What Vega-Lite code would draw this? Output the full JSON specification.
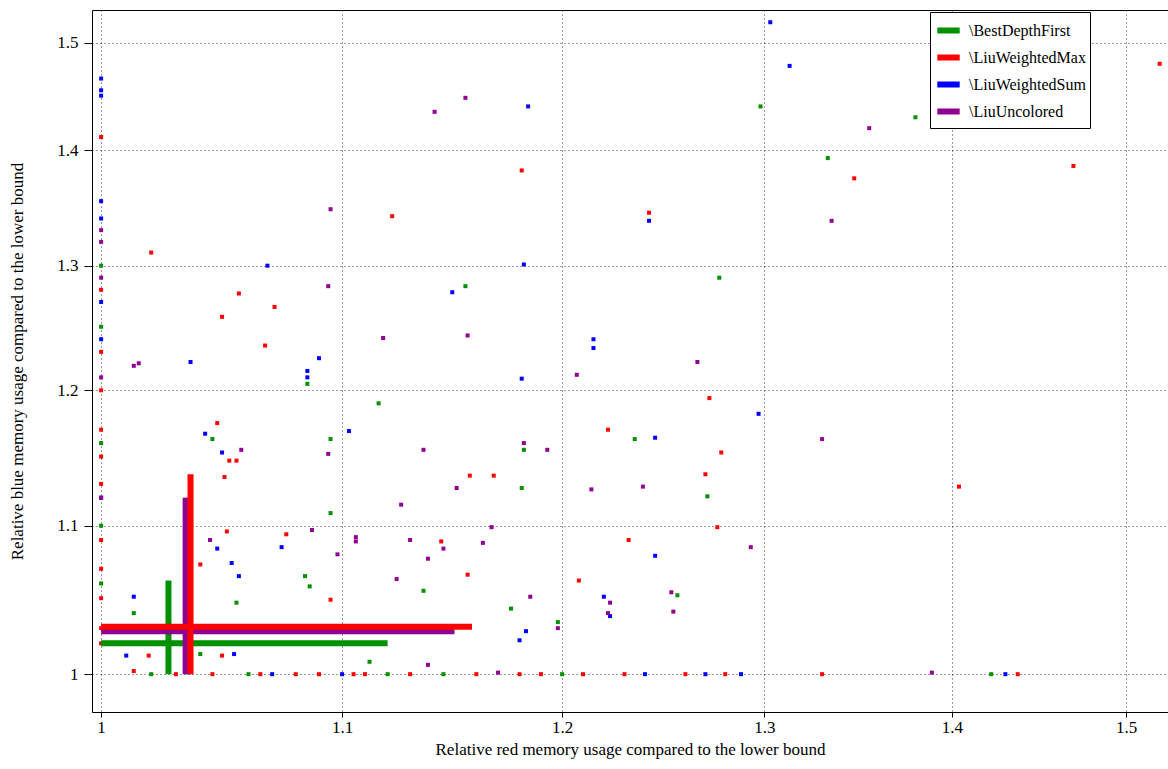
{
  "$schema": "https://vega.github.io/schema/vega-lite/v6.json",
  "width": 1076,
  "height": 702,
  "autosize": "none",
  "padding": {"left": 92, "top": 10, "right": 0, "bottom": 57},
  "config": {
    "font": "Liberation Serif",
    "view": {"stroke": "black", "strokeWidth": 1},
    "axis": {"labelFont": "Liberation Serif", "titleFont": "Liberation Serif", "labelFontSize": 17, "titleFontSize": 17, "titleFontWeight": "normal", "labelColor": "black", "titleColor": "black", "domain": false, "tickColor": "black", "grid": true, "gridColor": "black", "gridDash": [1, 3], "gridOpacity": 0.8}
  },
  "datasets": {
    "pts": [
      {"a": "\\BestDepthFirst", "x": 1.298, "y": 1.44}, {"a": "\\BestDepthFirst", "x": 1.38, "y": 1.43}, {"a": "\\BestDepthFirst", "x": 1.333, "y": 1.393},
      {"a": "\\BestDepthFirst", "x": 1.277, "y": 1.29}, {"a": "\\BestDepthFirst", "x": 1.155, "y": 1.283}, {"a": "\\BestDepthFirst", "x": 1.085, "y": 1.205},
      {"a": "\\BestDepthFirst", "x": 1.116, "y": 1.19}, {"a": "\\BestDepthFirst", "x": 1.045, "y": 1.163}, {"a": "\\BestDepthFirst", "x": 1.095, "y": 1.163},
      {"a": "\\BestDepthFirst", "x": 1.235, "y": 1.163}, {"a": "\\BestDepthFirst", "x": 1.182, "y": 1.155}, {"a": "\\BestDepthFirst", "x": 1.271, "y": 1.121},
      {"a": "\\BestDepthFirst", "x": 1.181, "y": 1.127}, {"a": "\\BestDepthFirst", "x": 1.095, "y": 1.109}, {"a": "\\BestDepthFirst", "x": 1.084, "y": 1.065},
      {"a": "\\BestDepthFirst", "x": 1.086, "y": 1.058}, {"a": "\\BestDepthFirst", "x": 1.136, "y": 1.055}, {"a": "\\BestDepthFirst", "x": 1.256, "y": 1.052},
      {"a": "\\BestDepthFirst", "x": 1.055, "y": 1.047}, {"a": "\\BestDepthFirst", "x": 1.176, "y": 1.043}, {"a": "\\BestDepthFirst", "x": 1.013, "y": 1.04},
      {"a": "\\BestDepthFirst", "x": 1.198, "y": 1.034}, {"a": "\\BestDepthFirst", "x": 1.112, "y": 1.008}, {"a": "\\BestDepthFirst", "x": 1.422, "y": 1.0},
      {"a": "\\BestDepthFirst", "x": 1.04, "y": 1.013}, {"a": "\\BestDepthFirst", "x": 1, "y": 1.3}, {"a": "\\BestDepthFirst", "x": 1, "y": 1.25},
      {"a": "\\BestDepthFirst", "x": 1, "y": 1.16}, {"a": "\\BestDepthFirst", "x": 1, "y": 1.1}, {"a": "\\BestDepthFirst", "x": 1, "y": 1.06},
      {"a": "\\BestDepthFirst", "x": 1.02, "y": 1.0}, {"a": "\\BestDepthFirst", "x": 1.12, "y": 1.0}, {"a": "\\BestDepthFirst", "x": 1.145, "y": 1.0},
      {"a": "\\BestDepthFirst", "x": 1.2, "y": 1.0}, {"a": "\\BestDepthFirst", "x": 1.06, "y": 1.0},
      {"a": "\\LiuWeightedSum", "x": 1.303, "y": 1.52}, {"a": "\\LiuWeightedSum", "x": 1.313, "y": 1.478}, {"a": "\\LiuWeightedSum", "x": 1.184, "y": 1.44},
      {"a": "\\LiuWeightedSum", "x": 1.242, "y": 1.338}, {"a": "\\LiuWeightedSum", "x": 1.068, "y": 1.3}, {"a": "\\LiuWeightedSum", "x": 1.182, "y": 1.301},
      {"a": "\\LiuWeightedSum", "x": 1.149, "y": 1.278}, {"a": "\\LiuWeightedSum", "x": 1.09, "y": 1.225}, {"a": "\\LiuWeightedSum", "x": 1.036, "y": 1.222},
      {"a": "\\LiuWeightedSum", "x": 1.215, "y": 1.24}, {"a": "\\LiuWeightedSum", "x": 1.215, "y": 1.233}, {"a": "\\LiuWeightedSum", "x": 1.085, "y": 1.215},
      {"a": "\\LiuWeightedSum", "x": 1.085, "y": 1.21}, {"a": "\\LiuWeightedSum", "x": 1.181, "y": 1.209}, {"a": "\\LiuWeightedSum", "x": 1.297, "y": 1.182},
      {"a": "\\LiuWeightedSum", "x": 1.103, "y": 1.169}, {"a": "\\LiuWeightedSum", "x": 1.042, "y": 1.167}, {"a": "\\LiuWeightedSum", "x": 1.245, "y": 1.164},
      {"a": "\\LiuWeightedSum", "x": 1.049, "y": 1.153}, {"a": "\\LiuWeightedSum", "x": 1.074, "y": 1.085}, {"a": "\\LiuWeightedSum", "x": 1.047, "y": 1.084},
      {"a": "\\LiuWeightedSum", "x": 1.053, "y": 1.074}, {"a": "\\LiuWeightedSum", "x": 1.245, "y": 1.079}, {"a": "\\LiuWeightedSum", "x": 1.056, "y": 1.065},
      {"a": "\\LiuWeightedSum", "x": 1.013, "y": 1.051}, {"a": "\\LiuWeightedSum", "x": 1.22, "y": 1.051}, {"a": "\\LiuWeightedSum", "x": 1.223, "y": 1.038},
      {"a": "\\LiuWeightedSum", "x": 1.183, "y": 1.028}, {"a": "\\LiuWeightedSum", "x": 1.18, "y": 1.022}, {"a": "\\LiuWeightedSum", "x": 1.01, "y": 1.012},
      {"a": "\\LiuWeightedSum", "x": 1.054, "y": 1.013}, {"a": "\\LiuWeightedSum", "x": 1.288, "y": 1.0}, {"a": "\\LiuWeightedSum", "x": 1.43, "y": 1.0},
      {"a": "\\LiuWeightedSum", "x": 1, "y": 1.466}, {"a": "\\LiuWeightedSum", "x": 1, "y": 1.455}, {"a": "\\LiuWeightedSum", "x": 1, "y": 1.45},
      {"a": "\\LiuWeightedSum", "x": 1, "y": 1.355}, {"a": "\\LiuWeightedSum", "x": 1, "y": 1.34}, {"a": "\\LiuWeightedSum", "x": 1, "y": 1.27},
      {"a": "\\LiuWeightedSum", "x": 1, "y": 1.24}, {"a": "\\LiuWeightedSum", "x": 1, "y": 1.12}, {"a": "\\LiuWeightedSum", "x": 1.1, "y": 1.0},
      {"a": "\\LiuWeightedSum", "x": 1.24, "y": 1.0}, {"a": "\\LiuWeightedSum", "x": 1.27, "y": 1.0}, {"a": "\\LiuWeightedSum", "x": 1.07, "y": 1.0},
      {"a": "\\LiuUncolored", "x": 1.155, "y": 1.448}, {"a": "\\LiuUncolored", "x": 1.141, "y": 1.435}, {"a": "\\LiuUncolored", "x": 1.355, "y": 1.42},
      {"a": "\\LiuUncolored", "x": 1.095, "y": 1.348}, {"a": "\\LiuUncolored", "x": 1.335, "y": 1.338}, {"a": "\\LiuUncolored", "x": 1.094, "y": 1.283},
      {"a": "\\LiuUncolored", "x": 1.118, "y": 1.241}, {"a": "\\LiuUncolored", "x": 1.156, "y": 1.243}, {"a": "\\LiuUncolored", "x": 1.015, "y": 1.221},
      {"a": "\\LiuUncolored", "x": 1.013, "y": 1.219}, {"a": "\\LiuUncolored", "x": 1.266, "y": 1.222}, {"a": "\\LiuUncolored", "x": 1.207, "y": 1.212},
      {"a": "\\LiuUncolored", "x": 1.057, "y": 1.155}, {"a": "\\LiuUncolored", "x": 1.136, "y": 1.155}, {"a": "\\LiuUncolored", "x": 1.094, "y": 1.152},
      {"a": "\\LiuUncolored", "x": 1.182, "y": 1.16}, {"a": "\\LiuUncolored", "x": 1.193, "y": 1.155}, {"a": "\\LiuUncolored", "x": 1.33, "y": 1.163},
      {"a": "\\LiuUncolored", "x": 1.151, "y": 1.127}, {"a": "\\LiuUncolored", "x": 1.214, "y": 1.126}, {"a": "\\LiuUncolored", "x": 1.239, "y": 1.128},
      {"a": "\\LiuUncolored", "x": 1.126, "y": 1.115}, {"a": "\\LiuUncolored", "x": 1.167, "y": 1.099}, {"a": "\\LiuUncolored", "x": 1.087, "y": 1.097},
      {"a": "\\LiuUncolored", "x": 1.106, "y": 1.092}, {"a": "\\LiuUncolored", "x": 1.106, "y": 1.089}, {"a": "\\LiuUncolored", "x": 1.145, "y": 1.084},
      {"a": "\\LiuUncolored", "x": 1.044, "y": 1.09}, {"a": "\\LiuUncolored", "x": 1.13, "y": 1.09}, {"a": "\\LiuUncolored", "x": 1.163, "y": 1.088},
      {"a": "\\LiuUncolored", "x": 1.293, "y": 1.085}, {"a": "\\LiuUncolored", "x": 1.138, "y": 1.077}, {"a": "\\LiuUncolored", "x": 1.098, "y": 1.08},
      {"a": "\\LiuUncolored", "x": 1.124, "y": 1.063}, {"a": "\\LiuUncolored", "x": 1.253, "y": 1.054}, {"a": "\\LiuUncolored", "x": 1.185, "y": 1.051},
      {"a": "\\LiuUncolored", "x": 1.223, "y": 1.047}, {"a": "\\LiuUncolored", "x": 1.222, "y": 1.04}, {"a": "\\LiuUncolored", "x": 1.254, "y": 1.041},
      {"a": "\\LiuUncolored", "x": 1.198, "y": 1.03}, {"a": "\\LiuUncolored", "x": 1.138, "y": 1.006}, {"a": "\\LiuUncolored", "x": 1.389, "y": 1.001},
      {"a": "\\LiuUncolored", "x": 1, "y": 1.33}, {"a": "\\LiuUncolored", "x": 1, "y": 1.32}, {"a": "\\LiuUncolored", "x": 1, "y": 1.29},
      {"a": "\\LiuUncolored", "x": 1, "y": 1.21}, {"a": "\\LiuUncolored", "x": 1, "y": 1.12}, {"a": "\\LiuUncolored", "x": 1.17, "y": 1.001},
      {"a": "\\LiuWeightedMax", "x": 1.52, "y": 1.48}, {"a": "\\LiuWeightedMax", "x": 1.469, "y": 1.386}, {"a": "\\LiuWeightedMax", "x": 1.347, "y": 1.375},
      {"a": "\\LiuWeightedMax", "x": 1.181, "y": 1.382}, {"a": "\\LiuWeightedMax", "x": 1.242, "y": 1.345}, {"a": "\\LiuWeightedMax", "x": 1.122, "y": 1.342},
      {"a": "\\LiuWeightedMax", "x": 1.02, "y": 1.311}, {"a": "\\LiuWeightedMax", "x": 1.056, "y": 1.277}, {"a": "\\LiuWeightedMax", "x": 1.071, "y": 1.266},
      {"a": "\\LiuWeightedMax", "x": 1.049, "y": 1.258}, {"a": "\\LiuWeightedMax", "x": 1.067, "y": 1.235}, {"a": "\\LiuWeightedMax", "x": 1.272, "y": 1.194},
      {"a": "\\LiuWeightedMax", "x": 1.047, "y": 1.175}, {"a": "\\LiuWeightedMax", "x": 1.055, "y": 1.147}, {"a": "\\LiuWeightedMax", "x": 1.052, "y": 1.147},
      {"a": "\\LiuWeightedMax", "x": 1.222, "y": 1.17}, {"a": "\\LiuWeightedMax", "x": 1.278, "y": 1.153}, {"a": "\\LiuWeightedMax", "x": 1.05, "y": 1.135},
      {"a": "\\LiuWeightedMax", "x": 1.168, "y": 1.136}, {"a": "\\LiuWeightedMax", "x": 1.157, "y": 1.136}, {"a": "\\LiuWeightedMax", "x": 1.404, "y": 1.128},
      {"a": "\\LiuWeightedMax", "x": 1.27, "y": 1.137}, {"a": "\\LiuWeightedMax", "x": 1.051, "y": 1.096}, {"a": "\\LiuWeightedMax", "x": 1.076, "y": 1.094},
      {"a": "\\LiuWeightedMax", "x": 1.276, "y": 1.099}, {"a": "\\LiuWeightedMax", "x": 1.232, "y": 1.09}, {"a": "\\LiuWeightedMax", "x": 1.144, "y": 1.089},
      {"a": "\\LiuWeightedMax", "x": 1.04, "y": 1.073}, {"a": "\\LiuWeightedMax", "x": 1.156, "y": 1.066}, {"a": "\\LiuWeightedMax", "x": 1.208, "y": 1.062},
      {"a": "\\LiuWeightedMax", "x": 1.095, "y": 1.049}, {"a": "\\LiuWeightedMax", "x": 1.049, "y": 1.012}, {"a": "\\LiuWeightedMax", "x": 1.019, "y": 1.012},
      {"a": "\\LiuWeightedMax", "x": 1.013, "y": 1.002}, {"a": "\\LiuWeightedMax", "x": 1.33, "y": 1.0}, {"a": "\\LiuWeightedMax", "x": 1.437, "y": 1.0},
      {"a": "\\LiuWeightedMax", "x": 1, "y": 1.412}, {"a": "\\LiuWeightedMax", "x": 1, "y": 1.28}, {"a": "\\LiuWeightedMax", "x": 1, "y": 1.23},
      {"a": "\\LiuWeightedMax", "x": 1, "y": 1.2}, {"a": "\\LiuWeightedMax", "x": 1, "y": 1.17}, {"a": "\\LiuWeightedMax", "x": 1, "y": 1.15},
      {"a": "\\LiuWeightedMax", "x": 1, "y": 1.13}, {"a": "\\LiuWeightedMax", "x": 1, "y": 1.09}, {"a": "\\LiuWeightedMax", "x": 1, "y": 1.07},
      {"a": "\\LiuWeightedMax", "x": 1, "y": 1.05}, {"a": "\\LiuWeightedMax", "x": 1, "y": 1.03}, {"a": "\\LiuWeightedMax", "x": 1, "y": 1.02},
      {"a": "\\LiuWeightedMax", "x": 1.03, "y": 1.0}, {"a": "\\LiuWeightedMax", "x": 1.045, "y": 1.0}, {"a": "\\LiuWeightedMax", "x": 1.065, "y": 1.0},
      {"a": "\\LiuWeightedMax", "x": 1.08, "y": 1.0}, {"a": "\\LiuWeightedMax", "x": 1.09, "y": 1.0}, {"a": "\\LiuWeightedMax", "x": 1.105, "y": 1.0},
      {"a": "\\LiuWeightedMax", "x": 1.13, "y": 1.0}, {"a": "\\LiuWeightedMax", "x": 1.16, "y": 1.0}, {"a": "\\LiuWeightedMax", "x": 1.18, "y": 1.0},
      {"a": "\\LiuWeightedMax", "x": 1.21, "y": 1.0}, {"a": "\\LiuWeightedMax", "x": 1.23, "y": 1.0}, {"a": "\\LiuWeightedMax", "x": 1.26, "y": 1.0},
      {"a": "\\LiuWeightedMax", "x": 1.28, "y": 1.0}, {"a": "\\LiuWeightedMax", "x": 1.11, "y": 1.0}, {"a": "\\LiuWeightedMax", "x": 1.19, "y": 1.0}
    ],
    "cross": [
      {"a": "\\BestDepthFirst", "x": 1, "x2": 1.12, "y": 1.02, "y2": 1.02},
      {"a": "\\BestDepthFirst", "x": 1.027, "x2": 1.027, "y": 1, "y2": 1.062},
      {"a": "\\LiuWeightedSum", "x": 1.035, "x2": 1.035, "y": 1, "y2": 1.12},
      {"a": "\\LiuUncolored", "x": 1, "x2": 1.15, "y": 1.028, "y2": 1.028},
      {"a": "\\LiuUncolored", "x": 1.034, "x2": 1.034, "y": 1, "y2": 1.12},
      {"a": "\\LiuWeightedMax", "x": 1, "x2": 1.158, "y": 1.031, "y2": 1.031},
      {"a": "\\LiuWeightedMax", "x": 1.036, "x2": 1.036, "y": 1, "y2": 1.137}
    ]
  },
  "layer": [
    {
      "data": {"name": "pts"},
      "mark": {"type": "point", "shape": "square", "filled": true, "size": 16, "opacity": 1},
      "encoding": {
        "x": {"field": "x", "type": "quantitative", "scale": {"type": "log", "domain": [0.9964, 1.525], "nice": false, "zero": false},
          "axis": {"values": [1, 1.1, 1.2, 1.3, 1.4, 1.5], "title": "Relative red memory usage compared to the lower bound", "titlePadding": 6, "labelPadding": 2, "tickSize": 5}},
        "y": {"field": "y", "type": "quantitative", "scale": {"type": "log", "domain": [0.976, 1.532], "nice": false, "zero": false},
          "axis": {"values": [1, 1.1, 1.2, 1.3, 1.4, 1.5], "title": "Relative blue memory usage compared to the lower bound", "titlePadding": 30, "labelPadding": 6, "tickSize": 8}},
        "color": {"field": "a", "type": "nominal",
          "scale": {"domain": ["\\BestDepthFirst", "\\LiuWeightedMax", "\\LiuWeightedSum", "\\LiuUncolored"], "range": ["#009000", "#ff0000", "#0000ff", "#900090"]},
          "legend": {"title": null, "orient": "none", "legendX": 838, "legendY": 2, "symbolType": "stroke", "symbolStrokeWidth": 6, "symbolSize": 500, "labelFontSize": 16, "labelFont": "Liberation Serif", "fillColor": "white", "strokeColor": "black", "padding": 4, "rowPadding": -2, "labelOffset": 6}}
      }
    },
    {
      "data": {"name": "cross"},
      "mark": {"type": "rule", "strokeWidth": 6},
      "encoding": {
        "x": {"field": "x", "type": "quantitative"},
        "x2": {"field": "x2"},
        "y": {"field": "y", "type": "quantitative"},
        "y2": {"field": "y2"},
        "color": {"field": "a", "type": "nominal"}
      }
    }
  ]
}
